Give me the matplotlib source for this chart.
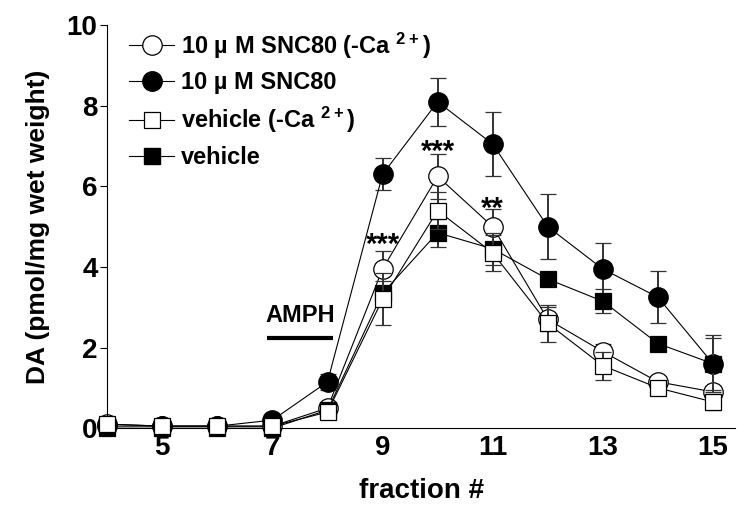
import matplotlib
matplotlib.use('Agg')
import matplotlib.pyplot as plt
from matplotlib.lines import Line2D
import numpy as np

plt.rcParams['font.family'] = ['Liberation Sans', 'DejaVu Sans']
plt.rcParams['font.weight'] = 'bold'
plt.rcParams['mathtext.fontset'] = 'custom'
plt.rcParams['mathtext.rm'] = 'Liberation Sans:bold'
plt.rcParams['mathtext.default'] = 'rm'

# data
fraction = [4, 5, 6, 7, 8, 9, 10, 11, 12, 13, 14, 15]

snc_noca = [0.1, 0.05, 0.05, 0.05, 0.5, 3.95, 6.25, 5.0, 2.7, 1.9, 1.15, 0.9]
snc_noca_err = [0.05, 0.05, 0.05, 0.05, 0.1, 0.45, 0.55, 0.45, 0.3, 0.2, 0.15, 0.15]

snc = [0.05, 0.05, 0.05, 0.2, 1.15, 6.3, 8.1, 7.05, 5.0, 3.95, 3.25, 1.6]
snc_err = [0.05, 0.05, 0.05, 0.1, 0.2, 0.4, 0.6, 0.8, 0.8, 0.65, 0.65, 0.65]

veh_noca = [0.1, 0.05, 0.05, 0.05, 0.4, 3.2, 5.4, 4.35, 2.6, 1.55, 1.0, 0.65]
veh_noca_err = [0.05, 0.05, 0.05, 0.05, 0.1, 0.65, 0.45, 0.45, 0.45, 0.35, 0.15, 0.2]

veh = [0.0, 0.0, 0.0, 0.0, 0.45, 3.35, 4.85, 4.45, 3.7, 3.15, 2.1, 1.6]
veh_err = [0.05, 0.05, 0.05, 0.05, 0.1, 0.3, 0.35, 0.4, 0.15, 0.3, 0.15, 0.7]

labels = ['10 \u00b5 M SNC80 (-Ca $^{2+}$)', '10 \u00b5 M SNC80',
          'vehicle (-Ca $^{2+}$)', 'vehicle']

# significance marks
stars_x = [9, 10, 11]
stars_y = [4.55, 6.85, 5.45]
stars_txt = ['***', '***', '**']

fig = plt.figure(figsize=(7.5, 5.26), dpi=100)
ax = fig.add_axes([0.143, 0.186, 0.837, 0.766])

ekw = dict(ecolor='#333333', elinewidth=1.4, capsize=6, capthick=1.4)

series = [
    (snc_noca, snc_noca_err, 'o', 14, 'white', 2),
    (snc, snc_err, 'o', 14, 'black', 3),
    (veh, veh_err, 's', 12, 'black', 4),
    (veh_noca, veh_noca_err, 's', 12, 'white', 5),
]
for vals, err, mk, ms, fc, z in series:
    cont = ax.errorbar(fraction, vals, yerr=err, color='black', lw=0.8,
                       marker=mk, ms=ms, mfc=fc, mec='black', mew=0.9,
                       zorder=z, **ekw)
    for art in cont.get_children():
        art.set_clip_on(False)

for x, y, t in zip(stars_x, stars_y, stars_txt):
    ax.text(x, y, t, ha='center', va='center', fontsize=21, fontweight='bold')

ax.text(7.5, 2.8, 'AMPH', ha='center', va='center', fontsize=17, fontweight='bold')
ax.plot([6.9, 8.1], [2.25, 2.25], color='black', lw=3, solid_capstyle='butt')

ax.set_xlim(4, 15.4)
ax.set_ylim(0, 10)
ax.set_xticks([5, 7, 9, 11, 13, 15])
ax.set_yticks([0, 2, 4, 6, 8, 10])
ax.tick_params(axis='both', labelsize=20, width=0.8)
ax.tick_params(axis='x', length=0, pad=5)
ax.tick_params(axis='y', length=5, pad=2)
for lab in ax.get_xticklabels() + ax.get_yticklabels():
    lab.set_fontweight('bold')
ax.spines['top'].set_visible(False)
ax.spines['right'].set_visible(False)
ax.spines['left'].set_linewidth(0.8)
ax.spines['bottom'].set_linewidth(0.8)

ax.set_xlabel('fraction #', fontsize=20, fontweight='bold', labelpad=12)
ax.set_ylabel('DA (pmol/mg wet weight)', fontsize=19, fontweight='bold', labelpad=12)

handles = [
    Line2D([], [], color='black', lw=0.8, marker='o', ms=14, mfc='white', mec='black', mew=0.9),
    Line2D([], [], color='black', lw=0.8, marker='o', ms=14, mfc='black', mec='black'),
    Line2D([], [], color='black', lw=0.8, marker='s', ms=12, mfc='white', mec='black', mew=0.9),
    Line2D([], [], color='black', lw=0.8, marker='s', ms=12, mfc='black', mec='black'),
]
ax.legend(handles, labels, loc='upper left', bbox_to_anchor=(0.02, 1.01),
          frameon=False, handlelength=1.9, handletextpad=0.3,
          labelspacing=0.45, borderaxespad=0, prop={'weight': 'bold', 'size': 17})

fig.savefig('out.png', dpi=100)
